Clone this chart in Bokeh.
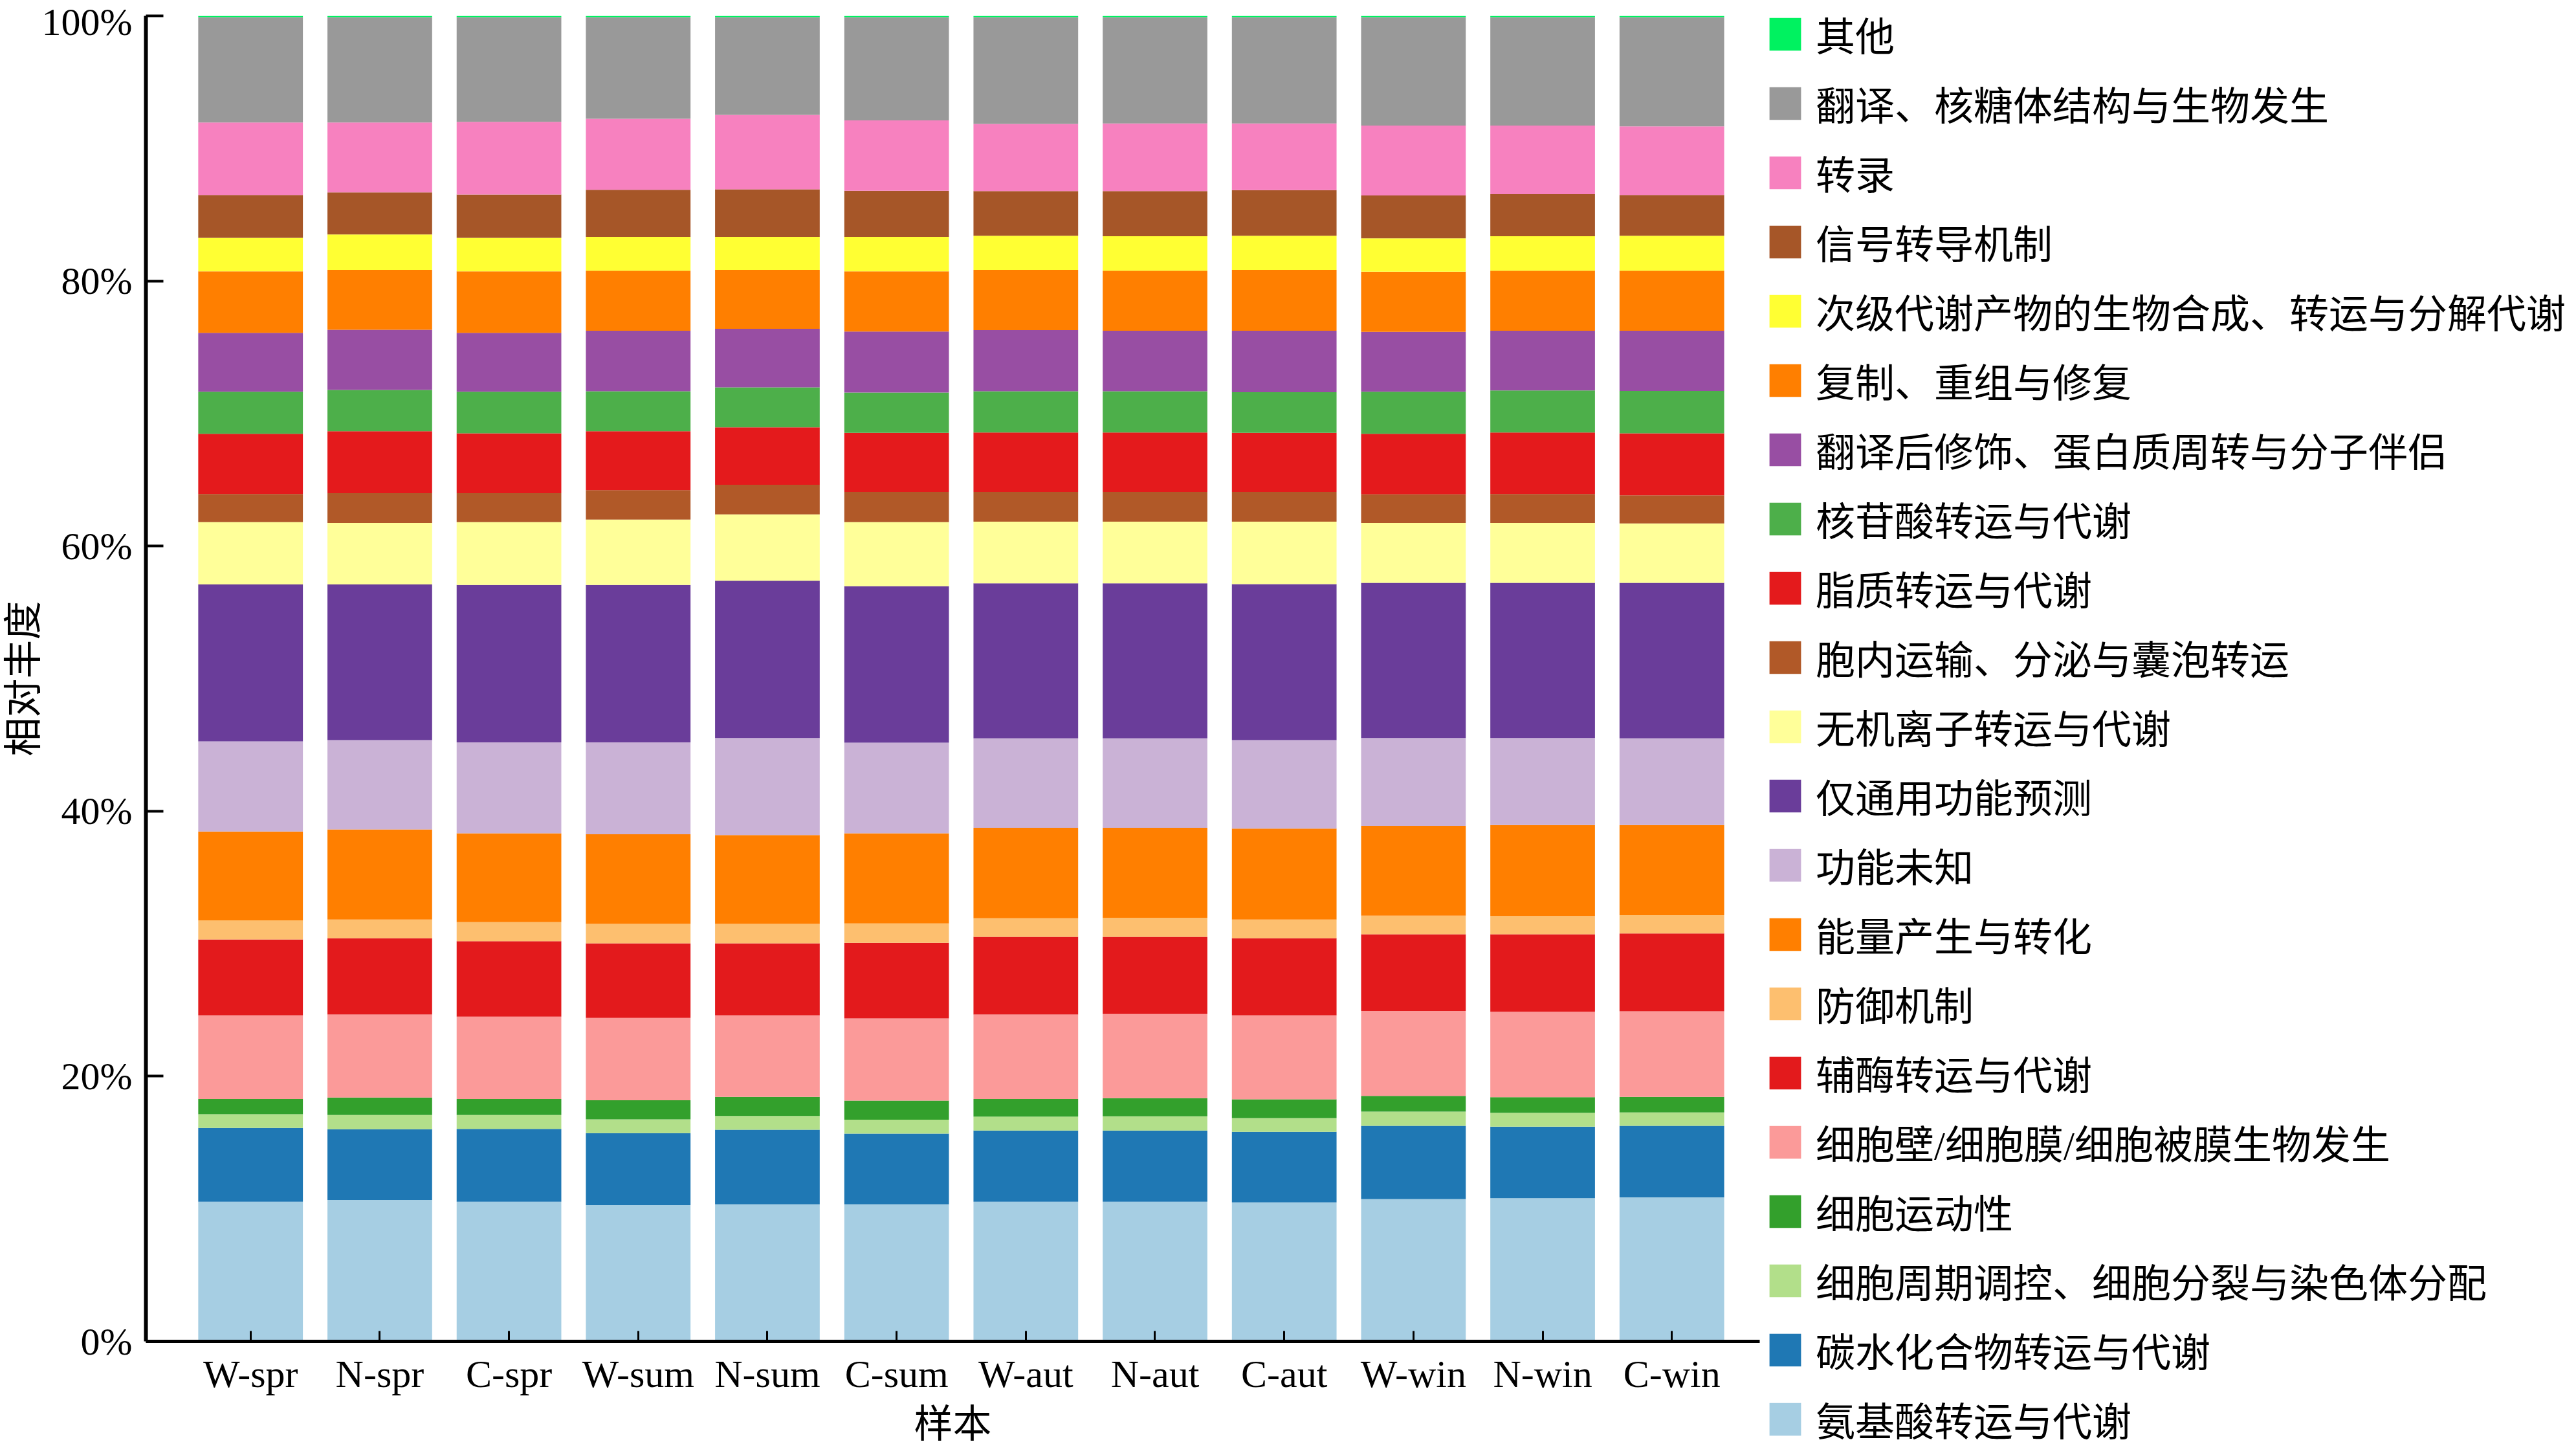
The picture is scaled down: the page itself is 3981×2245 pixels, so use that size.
from bokeh.plotting import figure
from bokeh.models import (ColumnDataSource, Legend, LegendItem, FixedTicker,
                          PrintfTickFormatter, Range1d)
from bokeh.core.properties import value
from bokeh.embed import file_html
from bokeh.resources import INLINE
import numpy as np

samples = ["W-spr", "N-spr", "C-spr", "W-sum", "N-sum", "C-sum",
           "W-aut", "N-aut", "C-aut", "W-win", "N-win", "C-win"]

# categories, bottom of the stack first
categories = [
    "氨基酸转运与代谢",
    "碳水化合物转运与代谢",
    "细胞周期调控、细胞分裂与染色体分配",
    "细胞运动性",
    "细胞壁/细胞膜/细胞被膜生物发生",
    "辅酶转运与代谢",
    "防御机制",
    "能量产生与转化",
    "功能未知",
    "仅通用功能预测",
    "无机离子转运与代谢",
    "胞内运输、分泌与囊泡转运",
    "脂质转运与代谢",
    "核苷酸转运与代谢",
    "翻译后修饰、蛋白质周转与分子伴侣",
    "复制、重组与修复",
    "次级代谢产物的生物合成、转运与分解代谢",
    "信号转导机制",
    "转录",
    "翻译、核糖体结构与生物发生",
    "其他",
]

amino = [10.54, 10.67, 10.54, 10.28, 10.34, 10.34, 10.54, 10.54, 10.48, 10.73, 10.80, 10.87]
carb = [5.56, 5.33, 5.49, 5.43, 5.63, 5.33, 5.36, 5.36, 5.33, 5.53, 5.40, 5.39]
cellcycle = [1.04, 1.08, 1.05, 1.04, 1.04, 1.05, 1.05, 1.08, 1.04, 1.08, 1.04, 1.01]
motility = [1.15, 1.31, 1.21, 1.44, 1.44, 1.44, 1.34, 1.37, 1.41, 1.18, 1.18, 1.18]
cellwall = [6.31, 6.27, 6.21, 6.21, 6.15, 6.21, 6.37, 6.35, 6.34, 6.41, 6.44, 6.45]
coenzyme = [5.72, 5.76, 5.69, 5.63, 5.43, 5.69, 5.86, 5.82, 5.82, 5.78, 5.85, 5.88]
defense = [1.44, 1.40, 1.44, 1.47, 1.47, 1.47, 1.40, 1.43, 1.40, 1.41, 1.38, 1.37]
energy = [6.70, 6.80, 6.70, 6.76, 6.70, 6.80, 6.83, 6.80, 6.87, 6.77, 6.86, 6.80]
unknown = [6.80, 6.74, 6.86, 6.93, 7.32, 6.83, 6.74, 6.74, 6.67, 6.63, 6.57, 6.54]
general = [11.84, 11.74, 11.88, 11.88, 11.87, 11.81, 11.70, 11.70, 11.77, 11.71, 11.71, 11.74]
inorganic = [4.70, 4.64, 4.73, 4.93, 5.00, 4.83, 4.65, 4.65, 4.71, 4.51, 4.51, 4.48]
intracell = [2.13, 2.25, 2.19, 2.22, 2.23, 2.29, 2.25, 2.25, 2.25, 2.16, 2.19, 2.12]
lipid = [4.54, 4.68, 4.52, 4.45, 4.34, 4.45, 4.48, 4.48, 4.45, 4.57, 4.64, 4.68]
nucleotide = [3.17, 3.11, 3.13, 3.01, 3.01, 3.04, 3.11, 3.11, 3.07, 3.17, 3.17, 3.20]
ptm = [4.45, 4.54, 4.45, 4.57, 4.42, 4.61, 4.61, 4.57, 4.64, 4.52, 4.51, 4.54]
replication = [4.64, 4.51, 4.64, 4.52, 4.44, 4.54, 4.54, 4.52, 4.58, 4.54, 4.52, 4.52]
secondary = [2.52, 2.68, 2.52, 2.55, 2.49, 2.59, 2.58, 2.61, 2.58, 2.52, 2.61, 2.64]
signal = [3.24, 3.17, 3.27, 3.56, 3.59, 3.49, 3.37, 3.40, 3.44, 3.23, 3.17, 3.08]
transcription = [5.46, 5.27, 5.49, 5.36, 5.62, 5.30, 5.07, 5.10, 5.03, 5.27, 5.17, 5.17]
translation = [7.95, 7.95, 7.89, 7.66, 7.37, 7.79, 8.05, 8.02, 8.02, 8.18, 8.18, 8.24]
other = [0.10, 0.10, 0.10, 0.10, 0.10, 0.10, 0.10, 0.10, 0.10, 0.10, 0.10, 0.10]

series = [amino, carb, cellcycle, motility, cellwall, coenzyme, defense, energy,
          unknown, general, inorganic, intracell, lipid, nucleotide, ptm,
          replication, secondary, signal, transcription, translation, other]

colors = ["#A6CEE3", "#1F78B4", "#B2DF8A", "#33A02C", "#FB9A99", "#E31A1C",
          "#FDBF6F", "#FF7F00", "#CAB2D6", "#6A3D9A", "#FFFF99", "#B15928",
          "#E41A1C", "#4DAF4A", "#984EA3", "#FF7F00", "#FFFF33", "#A65628",
          "#F781BF", "#999999", "#00F260"]

y_ticks = [0, 20, 40, 60, 80, 100]

LATIN = "Liberation Serif"
MIXED = "Liberation Serif, Noto Sans CJK SC"

xpos = (np.arange(len(samples)) + 0.5).tolist()
keys = ["s%d" % i for i in range(len(series))]
data = {"x": xpos, "sample": samples}
for k, vals in zip(keys, series):
    data[k] = vals
source = ColumnDataSource(data)

p = figure(frame_width=2494, frame_height=2048,
           x_range=Range1d(-0.31, 12.18), y_range=Range1d(0, 100),
           output_backend="svg", toolbar_location=None,
           min_border_left=0, min_border_right=1250,
           min_border_top=24, min_border_bottom=157)
p.outline_line_color = None
p.xgrid.visible = False
p.ygrid.visible = False

renderers = p.vbar_stack(keys, x="x", width=0.81, fill_color=colors,
                         line_color=None, source=source)

for ax in (p.xaxis[0], p.yaxis[0]):
    ax.axis_line_color = "black"
    ax.axis_line_alpha = 1.0
    ax.major_tick_line_color = "black"
    ax.major_tick_line_alpha = 1.0
    ax.minor_tick_line_color = None
    ax.major_tick_out = 0
    ax.major_label_text_font = LATIN
    ax.major_label_text_font_size = "60px"
    ax.major_label_text_color = "black"
    ax.axis_label_text_font = MIXED
    ax.axis_label_text_font_size = "60px"
    ax.axis_label_text_font_style = "normal"
    ax.axis_label_text_color = "black"

# x axis
p.xaxis.ticker = FixedTicker(ticks=xpos)
p.xaxis.major_label_overrides = {xv: s for xv, s in zip(xpos, samples)}
p.xaxis.axis_line_width = 5
p.xaxis.major_tick_in = 16
p.xaxis.major_tick_line_width = 3
p.xaxis.major_label_standoff = 17
p.xaxis.axis_label = "样本"
p.xaxis.axis_label_standoff = 9

# y axis
p.yaxis.ticker = FixedTicker(ticks=y_ticks)
p.yaxis.formatter = PrintfTickFormatter(format="%d%%")
p.yaxis.axis_line_width = 6
p.yaxis.major_tick_in = 27
p.yaxis.major_tick_line_width = 4
p.yaxis.major_label_standoff = 21
p.yaxis.axis_label = "相对丰度"
p.yaxis.axis_label_standoff = -8

items = [LegendItem(label=value(categories[i]), renderers=[renderers[i]])
         for i in reversed(range(len(categories)))]
legend = Legend(items=items, location=(9, -165),
                glyph_width=61, glyph_height=63, label_standoff=17,
                spacing=18, padding=0, margin=0,
                border_line_color=None, background_fill_alpha=0,
                label_text_font=MIXED, label_text_font_size="61px",
                label_text_color="black")
p.add_layout(legend, "right")

open("out.html", "w").write(file_html(p, INLINE))
